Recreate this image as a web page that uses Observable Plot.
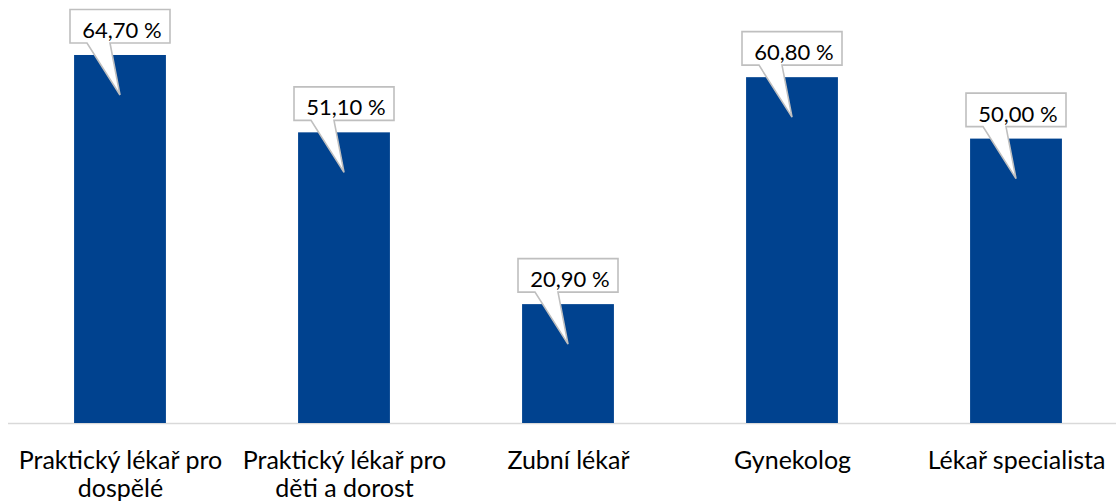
<!DOCTYPE html>
<html>
<head>
<meta charset="utf-8">
<script src="https://cdn.jsdelivr.net/npm/d3@7"></script>
<script src="https://cdn.jsdelivr.net/npm/@observablehq/plot@0.6"></script>
<style>
  html, body { margin: 0; padding: 0; background: #ffffff; }
  #chart { width: 1116px; height: 503px; overflow: hidden; }
</style>
</head>
<body>
<div id="chart"></div>
<script>
const categories = [
  "Praktický lékař pro dospělé",
  "Praktický lékař pro děti a dorost",
  "Zubní lékař",
  "Gynekolog",
  "Lékař specialista"
];
const tickLabels = [
  "Praktický lékař pro\ndospělé",
  "Praktický lékař pro\nděti a dorost",
  "Zubní lékař",
  "Gynekolog",
  "Lékař specialista"
];
const values = [64.7, 51.1, 20.9, 60.8, 50.0];
const valueLabels = ["64,70 %", "51,10 %", "20,90 %", "60,80 %", "50,00 %"];

const data = categories.map((c, i) => ({category: c, value: values[i], label: valueLabels[i], tick: tickLabels[i]}));

const FONT = "Lato, 'Open Sans', sans-serif";
const FS = 22;      // callout labels
const AXIS_FS = 25; // category labels

function callouts(index, scales) {
  const x = scales.x, y = scales.y;
  const bw = typeof x.bandwidth === "function" ? x.bandwidth() : (scales.scales && scales.scales.x.bandwidth) || 0;
  const g = d3.create("svg:g");
  data.forEach(d => {
    const cx = x(d.category) + bw / 2;
    const yt = y(d.value);
    const top = yt - 45.5, bot = yt - 12, left = cx - 50, right = cx + 50;
    g.append("path")
      .attr("d", `M${left},${top}H${right}V${bot}H${cx - 10}L${cx},${yt + 40}L${cx - 33},${bot}H${left}Z`)
      .attr("fill", "#ffffff")
      .attr("stroke", "#bfbfbf")
      .attr("stroke-width", 1.6)
      .attr("stroke-linejoin", "miter");
    g.append("text")
      .attr("x", cx + 2)
      .attr("y", top + 28.5)
      .attr("text-anchor", "middle")
      .attr("font-family", FONT)
      .attr("font-size", FS)
      .attr("fill", "#000000")
      .text(d.label);
  });
  return g.node();
}

const plot = Plot.plot({
  width: 1116,
  height: 503,
  marginLeft: 8,
  marginRight: 0,
  marginTop: 0,
  marginBottom: 80,
  style: {background: "#ffffff", fontFamily: FONT, fontSize: AXIS_FS + "px", color: "#000000"},
  x: {domain: categories, range: [8, 1128], paddingInner: 0.59, paddingOuter: 0.295, round: false, label: null},
  y: {domain: [0, 70], range: [423, 423 - 70 * 5.688], axis: null},
  marks: [
    Plot.ruleY([0], {stroke: "#d9d9d9", strokeWidth: 1.6}),
    Plot.barY(data, {x: "category", y: "value", fill: "#00428F"}),
    Plot.axisX({
      tickSize: 0,
      tickPadding: 25,
      tickFormat: (d) => tickLabels[categories.indexOf(d)],
      fontSize: AXIS_FS,
      lineHeight: 1.14,
      fill: "#000000",
      label: null
    }),
    callouts
  ]
});
document.getElementById("chart").appendChild(plot);
</script>
</body>
</html>
